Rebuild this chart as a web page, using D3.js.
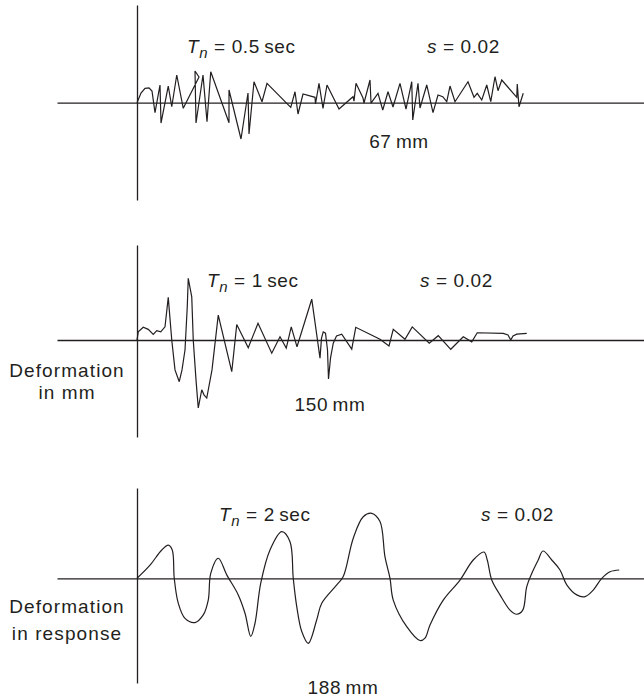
<!DOCTYPE html>
<html>
<head>
<meta charset="utf-8">
<script src="https://cdn.jsdelivr.net/npm/d3@7"></script>
<style>
  html, body { margin: 0; padding: 0; background: #fff; }
  svg { display: block; }
  text { font-family: "Liberation Sans", Arial, Helvetica, sans-serif; fill: #231f20; }
</style>
</head>
<body>
<svg id="chart" width="644" height="698"></svg>
<script>
// ---- Data (time in s, deformation in mm) ----
const panelTitles = ["0.5", "1", "2"];
const dampingLabels = ["0.02", "0.02", "0.02"];
const peakLabels = ["67", "150", "188"];
const peakValues = [67, 150, 188];

const t1 = [0, 0.32, 0.64, 0.96, 1.2, 1.44, 1.84, 1.92, 2.5, 2.78, 3.18, 3.7, 4.96, 4.64, 4.72, 5.28, 5.6, 5.9, 7.36, 7.36, 8.32, 8.88, 8.96, 9.36, 10.0, 10.4, 12.3, 12.64, 12.88, 13.28, 14.24, 14.28, 14.56, 14.88, 15.2, 16.16, 17.28, 17.36, 17.52, 18.08, 18.16, 18.64, 18.72, 19.28, 19.66, 20.08, 20.48, 21.04, 21.52, 21.98, 22.06, 22.48, 22.64, 23.18, 23.68, 24.08, 24.46, 24.78, 25.04, 25.44, 26.48, 26.96, 27.22, 27.58, 27.98, 28.3, 28.64, 28.88, 29.18, 30.38, 30.42, 30.56, 30.9];
const v1 = [0, 17.8, 26.3, 27.2, 21.5, -18.4, 32.6, -37.4, 30.7, -7.4, 51, -10.3, 47.3, 58.3, -37.4, 51, -35, 57, -36.8, 23.4, -66.8, 17.8, -57.6, 38.6, 1.8, 35.7, -8.5, 20.2, -20.8, 16, 9.9, -2.4, 35.7, -10.3, 32.6, -11.6, 11, 3, 35.7, 8.6, -0.6, 41.8, -0.6, 17.3, -13.4, 20.2, -7.9, 35.7, -11.6, 38.6, -31.8, 35.7, -9.8, 32.6, -18.4, 14.2, 11, 1.8, 30.7, 1.8, 38.6, 9.9, 17.3, 5, 32.6, 1.8, 47.8, 22, 41.8, 9.9, 34.4, -7.4, 17.3];

const t2 = [0, 0.1, 0.5, 0.9, 1.3, 1.58, 1.9, 2.24, 2.5, 2.78, 3.04, 3.38, 3.6, 3.84, 4.02, 4.1, 4.38, 4.5, 4.72, 4.9, 5.18, 5.36, 5.58, 6.0, 6.5, 7.58, 7.98, 8.9, 9.68, 10.78, 11.44, 11.94, 12.34, 12.8, 13.98, 14.64, 14.76, 14.9, 15.08, 15.24, 15.32, 15.48, 15.7, 15.96, 16.38, 17.18, 17.5, 19.44, 20.16, 20.5, 21.44, 22.02, 23.38, 24.1, 25.1, 26.1, 26.78, 27.22, 29.3, 29.68, 29.9, 30.08, 30.38, 31.18];
const v2 = [0, 18, 28, 23.5, 12.5, 20.5, 18, 29, 94, 0, -66, -92, -66, -22, 73, 136, 95, 0, -88, -150, -110, -121, -128, -66, 55, -70, 34, -17, 37, -29, 7, -18, 29, -15, 90, -40, 4, 18, 15, -22, -86, -40, -7, 9, 13, -20, 28, 1.5, -13, 23.5, 1.5, 29, -7, 9.5, -20.5, 7, -4, 16, 14.7, 11, 0, 9, 13, 14.7];

const t3 = [0, 1.04, 1.98, 2.5, 2.82, 2.98, 3.3, 3.84, 4.64, 5.3, 5.7, 5.9, 6.5, 7.18, 8.1, 8.64, 9.1, 9.44, 9.9, 10.64, 11.58, 12.24, 12.5, 12.78, 13.18, 13.7, 14.38, 14.78, 15.98, 16.5, 17.3, 18.1, 18.78, 19.44, 19.84, 20.24, 20.5, 21.58, 22.64, 23.04, 23.44, 24.5, 25.84, 26.9, 27.76, 28.02, 28.38, 29.04, 29.84, 30.38, 30.86, 31.18, 31.58, 32.1, 32.48, 33.18, 33.84, 34.38, 35.18, 35.84, 36.5, 37.18, 37.84, 38.58];
const v3 = [0, 38, 82, 96, 82, 0, -72, -116, -128, -106, -63, 14, 58, 10, -48, -101, -168, -130, -14, 82, 135, 106, 0, -82, -154, -188, -120, -72, -19, 5, 116, 178, 188, 164, 62, 0, -63, -140, -180, -173, -135, -63, -5, 53, 76, 53, -5, -48, -92, -104, -92, -24, 14, 53, 79, 53, 24, -19, -48, -53, -34, 0, 19, 24];

const leftLabels = [[], ["Deformation", "in mm"], ["Deformation", "in response"]];

// ---- Layout ----
const INK = "#231f20";
const FS = 19;
const svg = d3.select("#chart");
const x0 = 137;
const x = d3.scaleLinear().domain([0, 40]).range([x0, x0 + 500]);
const xAxisScale = d3.scaleLinear().domain([x.invert(57), x.invert(644)]).range([57, 644]);

const panels = [
  { t: t1, v: v1, axisY: 102.7, half: 36.4, vTop: 5,   vBot: 200, titleX: 187, sX: 427, titleY: 53,  peakX: 399, peakY: 148, curve: d3.curveLinear },
  { t: t2, v: v2, axisY: 340,   half: 68,   vTop: 245, vBot: 437, titleX: 207, sX: 420, titleY: 287, peakX: 330, peakY: 411, curve: d3.curveLinear, labelY: [377, 399] },
  { t: t3, v: v3, axisY: 578.3, half: 65,   vTop: 488, vBot: 683, titleX: 219, sX: 481, titleY: 521, peakX: 343, peakY: 694, curve: d3.curveCatmullRom.alpha(0.5), labelY: [613, 640] }
];

panels.forEach((p, i) => {
  const g = svg.append("g");
  const y = d3.scaleLinear().domain([-peakValues[i], peakValues[i]])
    .range([p.axisY + p.half, p.axisY - p.half]);
  const yAxisScale = d3.scaleLinear().domain([y.invert(p.vBot), y.invert(p.vTop)]).range([p.vBot, p.vTop]);

  // horizontal axis (time)
  g.append("g").attr("transform", `translate(0,${p.axisY})`)
    .call(d3.axisBottom(xAxisScale).tickValues([]).tickSizeOuter(0))
    .call(s => s.select(".domain").attr("stroke", INK).attr("stroke-width", 1.3));
  // vertical axis (deformation)
  g.append("g").attr("transform", `translate(${x0},0)`)
    .call(d3.axisLeft(yAxisScale).tickValues([]).tickSizeOuter(0))
    .call(s => s.select(".domain").attr("stroke", INK).attr("stroke-width", 1.3));

  const pts = p.t.map((tt, k) => [tt, p.v[k]]);
  const line = d3.line().x(d => x(d[0])).y(d => y(d[1])).curve(p.curve);
  g.append("path").datum(pts).attr("d", line)
    .attr("fill", "none").attr("stroke", INK).attr("stroke-width", 1.2)
    .attr("stroke-linejoin", "miter").attr("stroke-miterlimit", 3);

  // T_n label
  const tt = g.append("text").attr("x", p.titleX).attr("y", p.titleY)
    .attr("font-size", FS).attr("letter-spacing", 0.6);
  tt.append("tspan").attr("font-style", "italic").text("T");
  tt.append("tspan").attr("font-style", "italic").attr("font-size", 15).attr("dy", 5).text("n");
  tt.append("tspan").attr("dy", -5).text("\u00a0=\u00a0" + panelTitles[i] + "\u2009sec");

  // s label
  const st = g.append("text").attr("x", p.sX).attr("y", p.titleY)
    .attr("font-size", FS).attr("letter-spacing", 0.6);
  st.append("tspan").attr("font-style", "italic").text("s");
  st.append("tspan").text("\u00a0=\u00a0" + dampingLabels[i]);

  // peak label
  g.append("text").attr("x", p.peakX).attr("y", p.peakY)
    .attr("text-anchor", "middle").attr("font-size", FS).attr("letter-spacing", 0.6)
    .text(peakLabels[i] + "\u2009mm");

  // left labels
  leftLabels[i].forEach((lbl, k) => {
    g.append("text").attr("x", 67).attr("y", p.labelY[k])
      .attr("text-anchor", "middle").attr("font-size", FS).attr("letter-spacing", 1.1)
      .text(lbl);
  });
});
</script>
</body>
</html>
